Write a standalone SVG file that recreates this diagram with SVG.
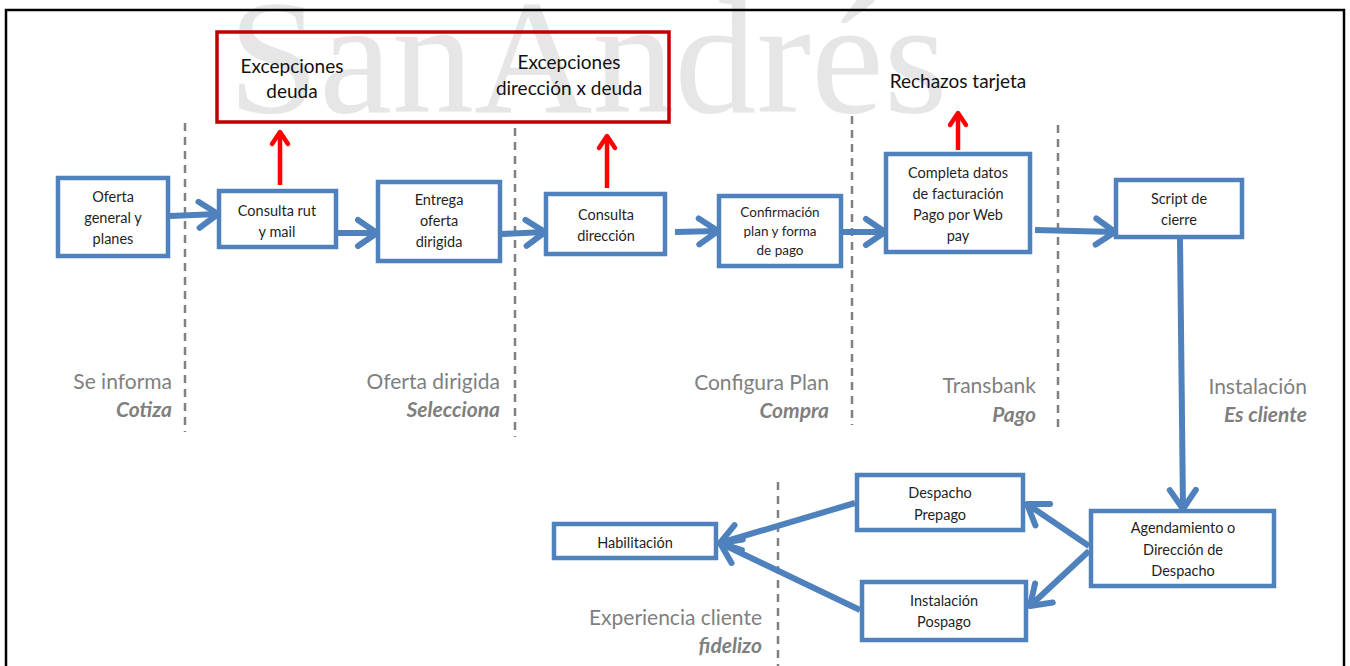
<svg xmlns="http://www.w3.org/2000/svg" width="1350" height="666" viewBox="0 0 1350 666">
<defs>
<marker id="ab" markerUnits="userSpaceOnUse" markerWidth="30" markerHeight="34" refX="22" refY="15" orient="auto" overflow="visible">
<path d="M3,2 L22,15 L3,28" fill="none" stroke="#4f81bd" stroke-width="6" stroke-linejoin="round" stroke-linecap="round"/>
</marker>
<marker id="ar" markerUnits="userSpaceOnUse" markerWidth="24" markerHeight="24" refX="15" refY="11" orient="auto" overflow="visible">
<path d="M3,3 L15,11 L3,19" fill="none" stroke="#ff0000" stroke-width="4.5" stroke-linejoin="round" stroke-linecap="round"/>
</marker>
<style>
.box{fill:#ffffff;stroke:#4f81bd;stroke-width:4.5}
.t{font-family:Lato,"Liberation Sans",sans-serif;font-size:14.5px;fill:#1f1f1f;text-anchor:middle}
.ts{font-size:13.5px}
.big{font-family:Lato,"Liberation Sans",sans-serif;font-size:19px;fill:#111111;text-anchor:middle}
.st{font-family:Lato,"Liberation Sans",sans-serif;font-size:21px;fill:#7f7f7f;text-anchor:end}
.sb{font-weight:bold;font-style:italic}
.dash{stroke:#808080;stroke-width:2.5;stroke-dasharray:8,6;fill:none}
.con{stroke:#4f81bd;stroke-width:6;fill:none;marker-end:url(#ab)}
.red{stroke:#ff0000;stroke-width:4.5;fill:none;marker-end:url(#ar)}
</style>
</defs>
<rect x="0" y="0" width="1350" height="666" fill="#ffffff"/>
<text x="228" y="112" font-family="'Liberation Serif',serif" font-size="164" fill="#e6e6e6">SanAndrés</text>
<rect x="6" y="10" width="1338" height="680" fill="none" stroke="#000000" stroke-width="2.5"/>

<g id="dividers">
<line class="dash" x1="185" y1="123" x2="185" y2="432"/>
<line class="dash" x1="515" y1="128" x2="515" y2="437"/>
<line class="dash" x1="852" y1="116" x2="852" y2="425"/>
<line class="dash" x1="1058" y1="125" x2="1058" y2="432"/>
<line class="dash" x1="778" y1="482" x2="778" y2="666"/>
</g>

<g id="exceptions">
<rect x="217" y="32" width="452" height="90" fill="none" stroke="#c00000" stroke-width="3.5"/>
<text class="big" x="292" y="73">Excepciones</text>
<text class="big" x="292" y="98">deuda</text>
<text class="big" x="569" y="69">Excepciones</text>
<text class="big" x="569" y="95">dirección x deuda</text>
</g>
<g id="rechazos">
<text class="big" x="958" y="88">Rechazos tarjeta</text>
</g>

<g id="n1"><rect class="box" x="58" y="178" width="110" height="78"/>
<text class="t" x="113" y="202">Oferta</text><text class="t" x="113" y="223">general y</text><text class="t" x="113" y="244">planes</text></g>
<g id="n2"><rect class="box" x="219" y="191" width="117" height="56"/>
<text class="t" x="277" y="216">Consulta rut</text><text class="t" x="277" y="237">y mail</text></g>
<g id="n3"><rect class="box" x="378" y="182" width="122" height="79"/>
<text class="t" x="439" y="205">Entrega</text><text class="t" x="439" y="226">oferta</text><text class="t" x="439" y="247">dirigida</text></g>
<g id="n4"><rect class="box" x="546" y="194" width="119" height="60"/>
<text class="t" x="606" y="220">Consulta</text><text class="t" x="606" y="241">dirección</text></g>
<g id="n5"><rect class="box" x="719" y="196" width="122" height="70"/>
<text class="t ts" x="780" y="217">Confirmación</text><text class="t ts" x="780" y="236">plan y forma</text><text class="t ts" x="780" y="255">de pago</text></g>
<g id="n6"><rect class="box" x="886" y="154" width="144" height="98"/>
<text class="t" x="958" y="178">Completa datos</text><text class="t" x="958" y="199">de facturación</text><text class="t" x="958" y="220">Pago por Web</text><text class="t" x="958" y="241">pay</text></g>
<g id="n7"><rect class="box" x="1116" y="180" width="126" height="57"/>
<text class="t" x="1179" y="204">Script de</text><text class="t" x="1179" y="225">cierre</text></g>
<g id="n8"><rect class="box" x="1091" y="511" width="183" height="75"/>
<text class="t" x="1183" y="533">Agendamiento  o</text><text class="t" x="1183" y="555">Dirección de</text><text class="t" x="1183" y="576">Despacho</text></g>
<g id="n9"><rect class="box" x="857" y="475" width="166" height="55"/>
<text class="t" x="940" y="498">Despacho</text><text class="t" x="940" y="520">Prepago</text></g>
<g id="n10"><rect class="box" x="862" y="582" width="164" height="58"/>
<text class="t" x="944" y="606">Instalación</text><text class="t" x="944" y="627">Pospago</text></g>
<g id="n11"><rect class="box" x="554" y="524" width="162" height="34"/>
<text class="t" x="635" y="548">Habilitación</text></g>

<g id="stages">
<text class="st" x="172" y="389">Se informa</text><text class="st sb" x="172" y="417">Cotiza</text>
<text class="st" x="500" y="389">Oferta dirigida</text><text class="st sb" x="500" y="417">Selecciona</text>
<text class="st" x="829" y="390">Configura Plan</text><text class="st sb" x="829" y="418">Compra</text>
<text class="st" x="1036" y="393">Transbank</text><text class="st sb" x="1036" y="422">Pago</text>
<text class="st" x="1307" y="394">Instalación</text><text class="st sb" x="1307" y="422">Es cliente</text>
<text class="st" x="762" y="625">Experiencia cliente</text><text class="st sb" x="762" y="653">fidelizo</text>
</g>

<g id="connectors">
<line class="con" x1="170" y1="216" x2="218" y2="214"/>
<line class="con" x1="338" y1="233" x2="377" y2="233"/>
<line class="con" x1="502" y1="234" x2="545" y2="232"/>
<line class="con" x1="675" y1="232" x2="718" y2="231"/>
<line class="con" x1="843" y1="232" x2="885" y2="232"/>
<line class="con" x1="1035" y1="230" x2="1115" y2="232"/>
<line class="con" x1="1180" y1="239" x2="1183" y2="509"/>
<line class="con" x1="1089" y1="546" x2="1027" y2="504"/>
<line class="con" x1="1089" y1="551" x2="1030" y2="606"/>
<line class="con" x1="855" y1="503" x2="720" y2="543"/>
<line class="con" x1="860" y1="610" x2="720" y2="543"/>
<line class="red" x1="280" y1="185" x2="280" y2="132"/>
<line class="red" x1="607" y1="188" x2="607" y2="136"/>
<line class="red" x1="958" y1="150" x2="958" y2="113"/>
</g>
</svg>
